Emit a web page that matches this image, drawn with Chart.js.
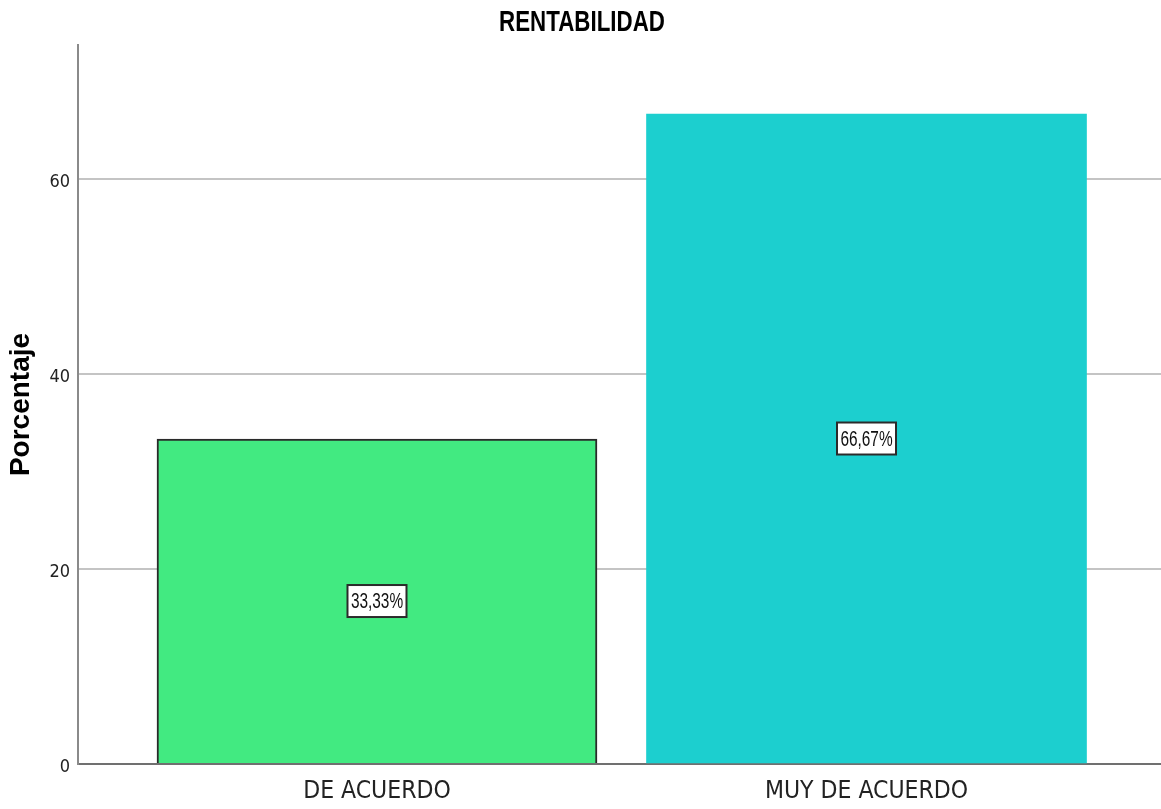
<!DOCTYPE html>
<html>
<head>
<meta charset="utf-8">
<script src="https://cdn.jsdelivr.net/npm/chart.js@4/dist/chart.umd.min.js"></script>
<style>
  html, body { margin: 0; padding: 0; background: #fff; }
  #wrap { width: 1161px; height: 809px; }
</style>
</head>
<body>
<div id="wrap"><canvas id="rent"></canvas></div>
<script>
var categories = ['DE ACUERDO', 'MUY DE ACUERDO'];
var porcentajes = [33.33, 66.67];
var etiquetas = ['33,33%', '66,67%'];
var yTicks = [0, 20, 40, 60];

var cond = "'DejaVu Sans Condensed', 'Liberation Sans', sans-serif";
var arial = "'Liberation Sans', Arial, sans-serif";

// texto estrecho: se comprime en horizontal
function narrowText(c, txt, x, y, sx) {
    c.save();
    c.translate(x, y);
    c.scale(sx, 1);
    c.fillText(txt, 0, 0);
    c.restore();
}

// titulo y cajas de porcentaje
var extras = {
    id: 'extras',
    afterDatasetsDraw: function (chart) {
        var c = chart.ctx;
        var meta = chart.getDatasetMeta(0);
        c.save();
        c.textAlign = 'center';
        c.textBaseline = 'middle';
        meta.data.forEach(function (bar, i) {
            var cy = (bar.y + bar.base) / 2;
            var w = 59, h = 32;
            c.fillStyle = '#ffffff';
            c.fillRect(bar.x - w / 2, cy - h / 2, w, h);
            c.strokeStyle = '#2b2b2b';
            c.lineWidth = 2;
            c.strokeRect(bar.x - w / 2, cy - h / 2, w, h);
            c.fillStyle = '#111';
            c.font = '22px ' + arial;
            narrowText(c, etiquetas[i], bar.x, cy + 1, 0.7);
        });
        c.font = 'bold 29px ' + arial;
        c.fillStyle = '#000';
        narrowText(c, 'RENTABILIDAD', 582, 23, 0.77);
        c.restore();
    }
};

var ctx = document.getElementById('rent').getContext('2d');
var chart = new Chart(ctx, {
    type: 'bar',
    data: {
        datasets: [{
            label: 'Porcentaje',
            data: porcentajes.map(function (v, i) { return { x: i, y: v }; }),
            backgroundColor: ['#42ea81', '#1ccfcf'],
            borderColor: ['#2a2a2a', '#1ccfcf'],
            borderWidth: [2, 0],
            barThickness: 440
        }]
    },
    options: {
        responsive: true,
        maintainAspectRatio: false,
        animation: false,
        layout: { padding: { top: 45, right: 0, left: 0, bottom: 0 } },
        plugins: {
            legend: { display: false },
            tooltip: { enabled: false }
        },
        scales: {
            x: {
                type: 'linear',
                offset: false,
                min: -0.6108,
                max: 1.6016,
                afterBuildTicks: function (scale) {
                    scale.ticks = categories.map(function (c, i) { return { value: i }; });
                },
                afterFit: function (scale) { scale.height = 45; },
                grid: { display: false, drawTicks: false },
                border: { display: true, color: '#707070', width: 2 },
                ticks: {
                    padding: 13,
                    color: '#222',
                    font: { family: cond, size: 24.5 },
                    callback: function (v) { return categories[v]; }
                }
            },
            y: {
                min: 0,
                max: 73.75,
                afterBuildTicks: function (scale) {
                    scale.ticks = yTicks.map(function (v) { return { value: v }; });
                },
                afterFit: function (scale) { scale.width = 78; },
                grid: { color: '#c4c4c4', lineWidth: 2, drawTicks: false },
                border: { display: true, color: '#8a8a8a', width: 2 },
                ticks: {
                    padding: 8,
                    labelOffset: 3,
                    color: '#222',
                    font: { family: cond, size: 18 }
                },
                title: {
                    display: true,
                    text: 'Porcentaje',
                    color: '#000',
                    font: { family: arial, size: 28, weight: 'bold' },
                    padding: { top: 4, bottom: 4 }
                }
            }
        }
    },
    plugins: [extras]
});
</script>
</body>
</html>
